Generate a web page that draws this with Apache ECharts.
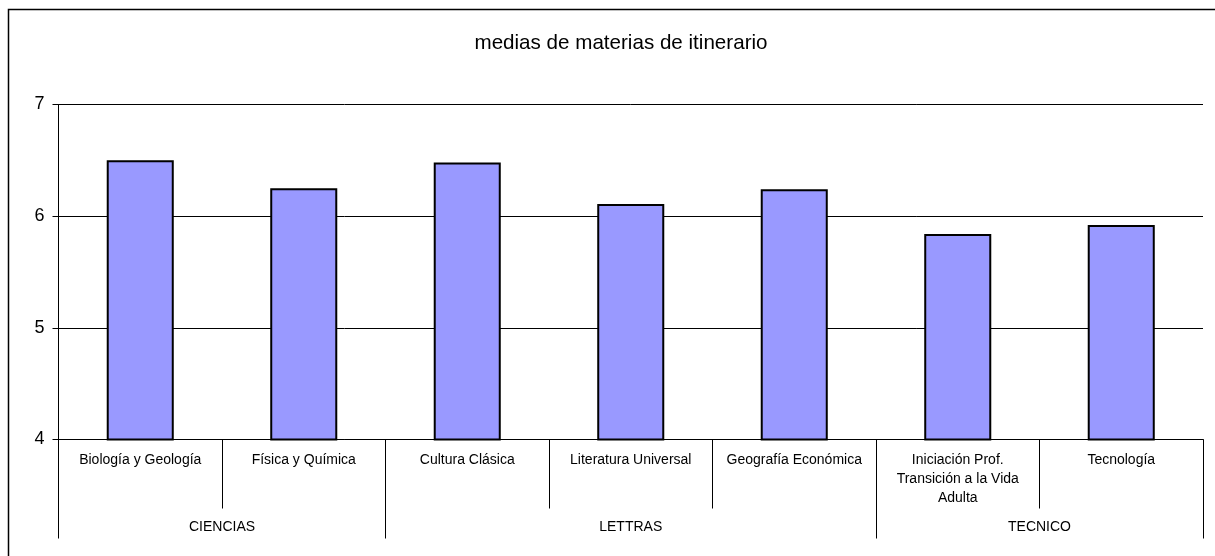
<!DOCTYPE html>
<html>
<head>
<meta charset="utf-8">
<script src="https://cdn.jsdelivr.net/npm/echarts@6/dist/echarts.min.js"></script>
<style>
  html, body { margin: 0; padding: 0; background: #fff; }
  #chart { width: 1215px; height: 556px; }
</style>
</head>
<body>
<div id="chart"></div>
<script>
// Subjects (first level of the category axis)
const subjects = [
  'Biología y Geología',
  'Física y Química',
  'Cultura Clásica',
  'Literatura Universal',
  'Geografía Económica',
  'Iniciación Prof.\nTransición a la Vida\nAdulta',
  'Tecnología'
];
// Mean mark per subject
const means = [6.50, 6.25, 6.48, 6.11, 6.24, 5.84, 5.92];
// Itineraries (second level) and how many subjects each one spans
const groupNames = ['CIENCIAS', 'LETTRAS', 'TECNICO'];
const groupSizes = [2, 3, 2];
// Value axis ticks
const yTicks = [4, 5, 6, 7];

// Boundaries and centres of the itinerary groups along the category axis
const groupBounds = [0];
groupSizes.forEach(n => groupBounds.push(groupBounds[groupBounds.length - 1] + n));
const groupCenters = groupSizes.map((n, i) => groupBounds[i] + n / 2);

const font = 'Arial, "Liberation Sans", sans-serif';
const chart = echarts.init(document.getElementById('chart'), null, { renderer: 'canvas' });

chart.setOption({
  animation: false,
  backgroundColor: '#fff',
  title: {
    text: 'medias de materias de itinerario',
    left: 616,
    textAlign: 'center',
    top: 28,
    textStyle: { fontFamily: font, fontSize: 20.6, fontWeight: 'normal', color: '#000' }
  },
  graphic: [{
    type: 'rect',
    shape: { x: 8.5, y: 9.5, width: 1220, height: 560 },
    style: { fill: 'none', stroke: '#000', lineWidth: 1.5 },
    silent: true
  }],
  grid: {
    left: 58.5, right: 12, top: 104.5, bottom: 116.5,
    containLabel: false, outerBoundsMode: 'none'
  },
  xAxis: [{
    type: 'category',
    data: subjects,
    position: 'bottom',
    axisLine: { show: true, lineStyle: { color: '#000', width: 1 } },
    axisTick: { show: true, interval: 0, alignWithLabel: false, length: 69, lineStyle: { color: '#000', width: 1 } },
    axisLabel: {
      interval: 0, margin: 11, color: '#000',
      fontFamily: font, fontSize: 14, lineHeight: 19
    },
    splitLine: { show: false }
  }, {
    type: 'value',
    position: 'bottom',
    min: 0,
    max: subjects.length,
    axisLine: { show: false },
    splitLine: { show: false },
    axisTick: {
      show: true, customValues: groupBounds, length: 99,
      lineStyle: { color: '#000', width: 1 }
    },
    axisLabel: {
      show: true, customValues: groupCenters, margin: 81,
      color: '#000', fontFamily: font, fontSize: 14, lineHeight: 14,
      formatter: v => groupNames[groupCenters.indexOf(v)] || ''
    }
  }],
  yAxis: {
    type: 'value',
    min: yTicks[0],
    max: yTicks[yTicks.length - 1],
    interval: 1,
    axisLine: { show: true, lineStyle: { color: '#000', width: 1 } },
    axisTick: { show: true, length: 6, lineStyle: { color: '#000', width: 1 } },
    axisLabel: { margin: 14, color: '#000', fontFamily: font, fontSize: 18 },
    splitLine: { show: true, lineStyle: { color: '#000', width: 1 } }
  },
  series: [{
    type: 'bar',
    xAxisIndex: 0,
    data: means,
    barWidth: '41%',
    itemStyle: { color: '#9999FF', borderColor: '#000', borderWidth: 2 }
  }]
});
</script>
</body>
</html>
